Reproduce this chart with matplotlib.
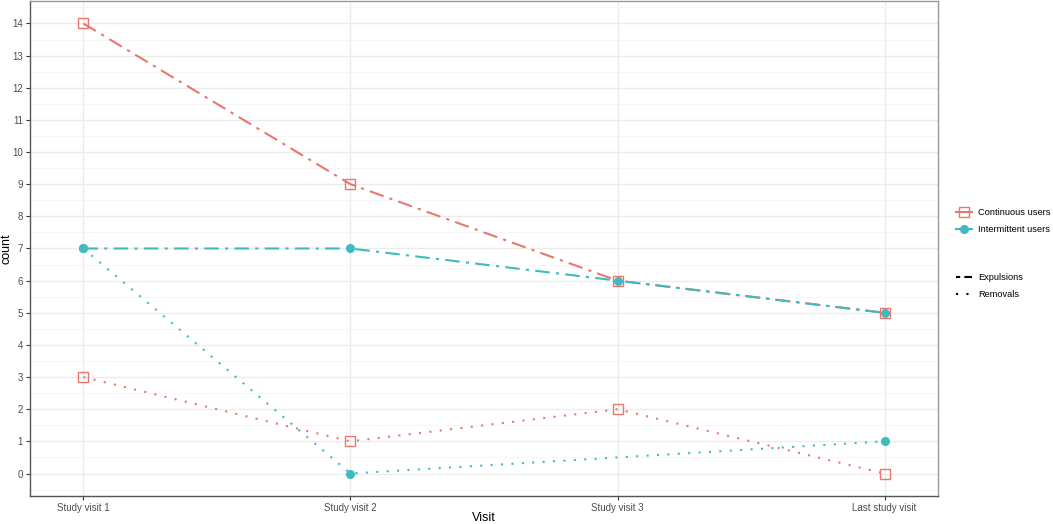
import numpy as np
import matplotlib.pyplot as plt
from matplotlib.lines import Line2D

plt.rcParams["font.family"] = ["Liberation Sans", "DejaVu Sans"]

visits = ["Study visit 1", "Study visit 2", "Study visit 3", "Last study visit"]
cont_expulsions = [14, 9, 6, 5]
inter_expulsions = [7, 7, 6, 5]
cont_removals = [3, 1, 2, 0]
# intermittent removals have no value at study visit 3
inter_removals_idx = [0, 1, 3]
inter_removals = [7, 0, 1]

red = "#E8776D"
teal = "#3FBAC0"
dashdot = (0, (7, 3, 1.5, 3))
dotted = (0, (1, 4))

fig = plt.figure(figsize=(10.53, 5.24), dpi=100)
ax = fig.add_axes([30 / 1053, 28 / 524, (938 - 30) / 1053, (496 - 1) / 524])

x = np.arange(len(visits))
ax.plot(x, cont_expulsions, color=red, ls=dashdot, lw=1.5, marker="s", ms=7.5,
        mfc="none", mec=red, mew=1.0, zorder=3)
ax.plot(x, inter_expulsions, color=teal, ls=dashdot, lw=1.5, marker="o", ms=5.5,
        mfc=teal, mec=teal, zorder=3)
ax.plot(x, cont_removals, color=red, ls=dotted, lw=1.5, marker="s", ms=7.5,
        mfc="none", mec=red, mew=1.0, zorder=3)
ax.plot(x[inter_removals_idx], inter_removals, color=teal, ls=dotted, lw=1.5,
        marker="o", ms=5.5, mfc=teal, mec=teal, zorder=3)

ax.set_xlim(-0.2, 3.2)
ax.set_ylim(-0.7, 14.7)
ax.set_xticks(x)
ax.set_xticklabels(visits)
ax.set_yticks(range(0, 15))
ax.set_yticks(np.arange(-0.5, 15, 1), minor=True)
ax.tick_params(axis="both", which="major", length=3, width=0.8, color="#333333",
               labelsize=7, labelcolor="#4D4D4D", pad=2)
ax.tick_params(axis="y", which="minor", length=0)
ax.grid(True, which="major", color="#EBEBEB", lw=1.0, zorder=0)
ax.grid(True, which="minor", axis="y", color="#F5F5F5", lw=0.6, zorder=0)
ax.set_axisbelow(True)
for s in ax.spines.values():
    s.set_color("#555555")
    s.set_linewidth(1.0)
ax.spines["top"].set_color("#999999")
ax.spines["right"].set_color("#999999")

ax.set_xlabel("Visit", fontsize=9, labelpad=-1)
ax.set_ylabel("count", fontsize=9, labelpad=0)

h1 = [Line2D([], [], color=red, ls="-", lw=1.5, marker="s", ms=7.5, mfc="none", mec=red),
      Line2D([], [], color=teal, ls="-", lw=1.5, marker="o", ms=5.5, mfc=teal, mec=teal)]
leg1 = fig.legend(h1, ["Continuous users", "Intermittent users"], loc="upper left",
                  bbox_to_anchor=(948 / 1053, 1 - 200 / 524), frameon=False,
                  fontsize=6.7, handlelength=1.7, labelspacing=0.8, handletextpad=0.6)
h2 = [Line2D([], [], color="black", ls=(0, (2, 2, 6, 2)), lw=1.5),
      Line2D([], [], color="black", ls=dotted, lw=1.5)]
leg2 = fig.legend(h2, ["Expulsions", "Removals"], loc="upper left",
                  bbox_to_anchor=(948 / 1053, 1 - 265 / 524), frameon=False,
                  fontsize=6.7, handlelength=1.7, labelspacing=0.8, handletextpad=0.6)

fig.savefig("out.png", dpi=100)
